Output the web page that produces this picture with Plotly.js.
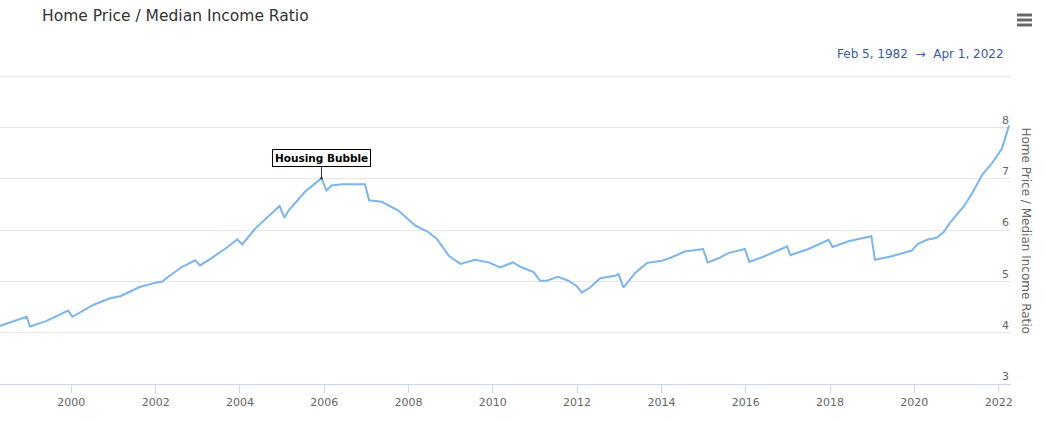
<!DOCTYPE html>
<html>
<head>
<meta charset="utf-8">
<script src="https://cdn.plot.ly/plotly-3.0.1.min.js"></script>
<style>
  html, body { margin: 0; padding: 0; background: #fff; }
  #chart { width: 1046px; height: 422px; }
</style>
</head>
<body>
<div id="chart"></div>
<script>
// ---- Data ----
const dates = [
  "1998-03-20","1998-04-20","1998-12-10","1999-01-08","1999-06-01","1999-12-05",
  "2000-01-10","2000-07-08","2000-12-01","2001-03-01","2001-08-15","2002-01-10",
  "2002-02-25","2002-04-20","2002-08-15","2002-12-10","2003-01-20","2003-04-15",
  "2003-09-10","2003-12-10","2004-01-20","2004-05-10","2004-06-25","2004-12-10",
  "2005-01-20","2005-02-25","2005-07-20","2005-12-08","2006-01-20","2006-03-05",
  "2006-06-01","2006-12-20","2007-01-25","2007-05-15","2007-10-05","2008-02-28",
  "2008-06-20","2008-09-01","2008-12-15","2009-03-25","2009-07-30","2009-11-25",
  "2010-03-05","2010-06-25","2010-09-01","2010-12-20","2011-02-15","2011-04-10",
  "2011-07-20","2011-10-20","2011-12-28","2012-02-10","2012-04-22","2012-07-20",
  "2012-11-25","2012-12-25","2013-02-05","2013-03-22","2013-05-20","2013-08-30",
  "2014-01-05","2014-04-01","2014-07-22","2014-12-28","2015-02-05","2015-05-10",
  "2015-08-05","2015-12-25","2016-02-01","2016-05-22","2016-10-27","2016-12-25",
  "2017-01-22","2017-06-28","2017-12-20","2018-01-22","2018-06-10","2018-12-25",
  "2019-01-25","2019-06-20","2019-12-10","2020-02-02","2020-04-20","2020-07-15",
  "2020-09-12","2020-11-05","2021-03-01","2021-05-15","2021-08-10","2021-11-03",
  "2022-01-30","2022-04-01"
];
const ratio = [
  4.12, 4.13, 4.31, 4.12, 4.23, 4.43,
  4.31, 4.54, 4.67, 4.71, 4.89, 4.98,
  4.99, 5.09, 5.28, 5.41, 5.31, 5.43,
  5.66, 5.82, 5.72, 6.02, 6.12, 6.47,
  6.24, 6.38, 6.75, 7.01, 6.77, 6.87,
  6.89, 6.89, 6.58, 6.55, 6.38, 6.09,
  5.96, 5.83, 5.50, 5.34, 5.42, 5.37,
  5.27, 5.37, 5.28, 5.18, 5.01, 5.01,
  5.09, 5.01, 4.91, 4.78, 4.88, 5.06,
  5.11, 5.14, 4.88, 5.01, 5.17, 5.36,
  5.40, 5.47, 5.58, 5.63, 5.37, 5.45,
  5.55, 5.63, 5.38, 5.47, 5.62, 5.68,
  5.51, 5.63, 5.81, 5.67, 5.78, 5.88,
  5.42, 5.49, 5.60, 5.73, 5.81, 5.85,
  5.96, 6.14, 6.45, 6.71, 7.07, 7.30,
  7.59, 8.04
];
const yTickVals = [3, 4, 5, 6, 7, 8, 9];
const yTickText = ["3", "4", "5", "6", "7", "8", ""];
const flagDate = "2005-12-08";
const flagValue = 7.01;
const flagText = "Housing Bubble";
const chartTitle = "Home Price / Median Income Ratio";
const yTitle = "Home Price / Median Income Ratio";
const rangeText = "Feb 5, 1982&nbsp;&nbsp;→&nbsp;&nbsp;Apr 1, 2022";

// ---- Layout geometry ----
const W = 1046, H = 422;
const M = { l: 0, r: 35, t: 73, b: 38 };
const PW = W - M.l - M.r, PH = H - M.t - M.b;
const px = x => (x - M.l) / PW;          // pixel -> paper x
const py = y => (H - M.b - y) / PH;      // pixel -> paper y

const trace = {
  x: dates, y: ratio, type: "scatter", mode: "lines",
  line: { color: "#7cb5ec", width: 2 },
  hoverinfo: "x+y", showlegend: false
};

const burger = [15, 20, 25].map(y => ({
  type: "line", xref: "paper", yref: "paper",
  x0: px(1017), x1: px(1032), y0: py(y), y1: py(y),
  line: { color: "#666666", width: 3 }
}));

const layout = {
  width: W, height: H,
  margin: M,
  paper_bgcolor: "#ffffff", plot_bgcolor: "#ffffff",
  font: { family: "DejaVu Sans, Verdana, sans-serif", color: "#666666", size: 11 },
  title: {
    text: chartTitle, xref: "container", yref: "container",
    x: 42 / W, xanchor: "left", y: 1 - 16 / H, yanchor: "middle",
    font: { family: "DejaVu Sans, sans-serif", size: 15.5, color: "#333333" }
  },
  xaxis: {
    type: "date",
    range: ["1998-04-23", "2022-04-18"],
    tick0: "2000-01-01", dtick: "M24", tickformat: "%Y",
    showgrid: false, zeroline: false,
    showline: true, linecolor: "#ccd6eb", linewidth: 1,
    ticks: "outside", ticklen: 8, tickcolor: "#ccd6eb", tickwidth: 1,
    tickfont: { size: 11, color: "#666666" },
    fixedrange: true
  },
  yaxis: {
    side: "right",
    range: [3, 9.06],
    tickvals: yTickVals, ticktext: yTickText,
    ticklabelposition: "inside top",
    ticklabelstandoff: -1,
    showgrid: true, gridcolor: "#e6e6e6", gridwidth: 1,
    zeroline: false, showline: false, ticks: "",
    tickfont: { size: 11, color: "#666666" },
    fixedrange: true
  },
  shapes: burger,
  annotations: [
    {
      x: flagDate, y: flagValue, xref: "x", yref: "y",
      text: "<b>" + flagText + "</b>",
      showarrow: true, arrowhead: 6, arrowsize: 0.6, arrowwidth: 1, arrowcolor: "#333333",
      ax: 0, ay: -20, standoff: 0,
      bgcolor: "#ffffff", bordercolor: "#000000", borderwidth: 1, borderpad: 2,
      font: { family: "DejaVu Sans, sans-serif", size: 10.5, color: "#000000" }
    },
    {
      xref: "paper", yref: "paper", x: px(1006), y: py(54),
      xanchor: "right", yanchor: "middle", showarrow: false,
      text: rangeText,
      font: { family: "DejaVu Sans, sans-serif", size: 12, color: "#3a5ba8" }
    },
    {
      xref: "paper", yref: "paper", x: px(1025.5), y: py(230),
      xanchor: "center", yanchor: "middle", showarrow: false,
      text: yTitle, textangle: 90,
      font: { family: "DejaVu Sans, sans-serif", size: 12, color: "#666666" }
    }
  ]
};

Plotly.newPlot("chart", [trace], layout, { displayModeBar: false, responsive: false });
</script>
</body>
</html>
